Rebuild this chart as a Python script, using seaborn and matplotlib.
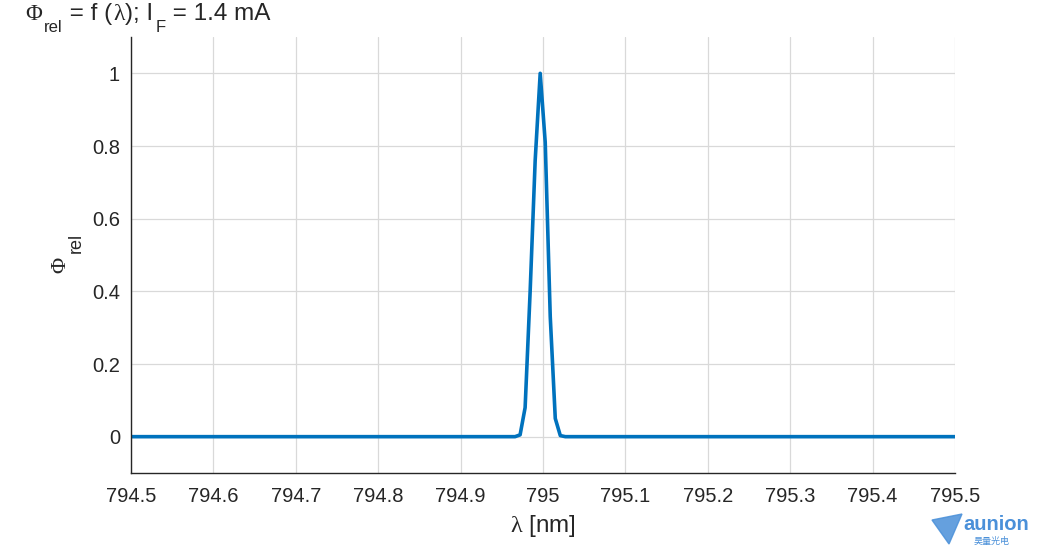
import numpy as np
import pandas as pd
import matplotlib
matplotlib.use("Agg")
import matplotlib.pyplot as plt
from matplotlib.patches import Polygon
import seaborn as sns

# data
wavelength = [794.5, 794.9661, 794.9722, 794.9783, 794.9844, 794.9905, 794.9966,
              795.0027, 795.0088, 795.0149, 795.0210, 795.0271, 795.5]
phi_rel = [0.0, 0.0, 0.005, 0.08, 0.40, 0.76, 1.0,
           0.81, 0.33, 0.05, 0.003, 0.0, 0.0]
x_ticks = [794.5, 794.6, 794.7, 794.8, 794.9, 795.0, 795.1, 795.2, 795.3, 795.4, 795.5]
x_ticklabels = ["794.5", "794.6", "794.7", "794.8", "794.9", "795",
                "795.1", "795.2", "795.3", "795.4", "795.5"]
y_ticks = [0, 0.2, 0.4, 0.6, 0.8, 1.0]
y_ticklabels = ["0", "0.2", "0.4", "0.6", "0.8", "1"]

# title pieces: (text, font, size, lowered)
title_parts = [("Φ", "Liberation Serif", 16.5, False),
               ("rel", "Liberation Sans", 12, True),
               (" = f (", "Liberation Sans", 17.5, False),
               ("λ", "Liberation Serif", 17, False),
               ("); I", "Liberation Sans", 17.5, False),
               ("F", "Liberation Sans", 12, True),
               (" = 1.4 mA", "Liberation Sans", 17.5, False)]

df = pd.DataFrame({"wavelength": wavelength, "phi": phi_rel})

sns.set_style("white")
plt.rcParams["font.family"] = ["Liberation Sans", "Noto Sans CJK SC", "DejaVu Sans"]
plt.rcParams["mathtext.fontset"] = "custom"
plt.rcParams["mathtext.rm"] = "Liberation Serif"
plt.rcParams["mathtext.it"] = "Liberation Serif"
plt.rcParams["mathtext.sf"] = "Liberation Sans"

txt = "#262626"
fig = plt.figure(figsize=(10.39, 5.54), dpi=100)
ax = fig.add_axes([131 / 1039, 81 / 554, 824 / 1039, 436 / 554])

sns.lineplot(data=df, x="wavelength", y="phi", ax=ax, color="#0072BD", linewidth=2.6)

ax.set_xlim(794.5, 795.5)
ax.set_ylim(-0.1, 1.1)
ax.set_xticks(x_ticks)
ax.set_xticklabels(x_ticklabels)
ax.set_yticks(y_ticks)
ax.set_yticklabels(y_ticklabels)
ax.grid(True, color="#D9D9D9", linewidth=0.9)
ax.tick_params(direction="in", length=6, width=1, colors=txt,
               labelsize=14.5, pad=8, labelcolor=txt)
ax.tick_params(axis="x", pad=10)
for s in ["top", "right"]:
    ax.spines[s].set_visible(False)
for s in ["left", "bottom"]:
    ax.spines[s].set_color(txt)
    ax.spines[s].set_linewidth(1)

ax.set_xlabel(r"$\lambda$ [nm]", fontsize=17.5, color=txt, labelpad=5)
ax.set_ylabel("")

# y label: Phi with a large lowered subscript, rotated
fig.text(65 / 1039, 1 - 273 / 554, "Φ", fontsize=16, family="Liberation Serif", color=txt,
         rotation=90, rotation_mode="anchor", ha="left", va="baseline")
fig.text(81 / 1039, 1 - 253 / 554, "rel", fontsize=13, color=txt,
         rotation=90, rotation_mode="anchor", ha="left", va="baseline")

# title, built piece by piece so the subscripts sit low like the original
base_y = 554 - 20
sub_y = 554 - 31.5
prev = fig.text(25 / 1039, base_y / 554, title_parts[0][0], fontsize=title_parts[0][2],
                family=title_parts[0][1], color=txt, ha="left", va="baseline")
for s, fam, size, low in title_parts[1:]:
    prev = ax.annotate(s, xy=(1, sub_y if low else base_y), xycoords=(prev, "figure pixels"),
                       xytext=(1.5 if low else 0.5, 0), textcoords="offset points",
                       fontsize=size, family=fam, color=txt, ha="left", va="baseline",
                       annotation_clip=False)

# logo
logo_col = "#4A90D9"
tri = Polygon([[932 / 1039, 1 - 520 / 554], [962 / 1039, 1 - 514 / 554],
               [949 / 1039, 1 - 544 / 554]], closed=True, transform=fig.transFigure,
              color=logo_col, alpha=0.85)
fig.patches.append(tri)
fig.text(963 / 1039, 1 - 525 / 554, "aunion", fontsize=14.5, fontweight="bold",
         color=logo_col, va="center", ha="left")
fig.text(992 / 1039, 1 - 541 / 554, "昊量光电", fontsize=6.5, color=logo_col,
         va="center", ha="center", family=["Noto Sans CJK SC", "DejaVu Sans"])

fig.savefig("out.png", dpi=100)
